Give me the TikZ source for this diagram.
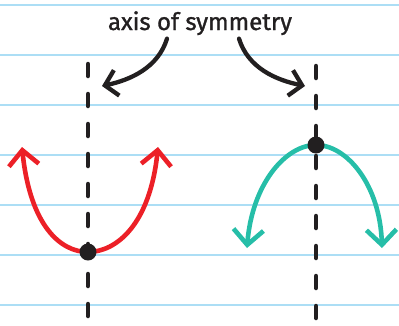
\documentclass[tikz,border=0pt]{standalone}
\usepackage{xcolor}
\usepackage{fontspec}
\setmainfont{Fira Sans}[FakeBold=1.2]
\usepackage{tikz}
\usetikzlibrary{arrows.meta, calc}

\definecolor{ruleblue}{RGB}{172,222,245}
\definecolor{upred}{RGB}{236,32,39}
\definecolor{downteal}{RGB}{38,190,168}
\definecolor{ink}{RGB}{34,31,32}

\begin{document}
\begin{tikzpicture}[
    x=1pt, y=-1pt,
    every node/.style={font=\fontsize{24}{28}\selectfont, text=ink},
    rule/.style={draw=ruleblue, line width=2.4pt},
    axisline/.style={draw=ink, line width=4.5pt, line cap=round, dash pattern=on 12pt off 18pt},
    branch/.style={line width=4.6pt, line cap=round, {Straight Barb[length=15pt, width=30pt, line width=4.6pt]}-{Straight Barb[length=15pt, width=30pt, line width=4.6pt]}},
    pointer/.style={draw=ink, line width=4.3pt, line cap=round, -{Straight Barb[length=12pt, width=26pt, line width=4.3pt]}},
    vertexdot/.style={circle, fill=ink, minimum size=17pt, inner sep=0pt}
]
\useasboundingbox (0,0) rectangle (399,325);

% ============================================================
% 1. NOTEBOOK RULES
% ============================================================
\foreach \y in {5,55,...,305}
    \draw[rule] (0,\y) -- (399,\y);

% ============================================================
% 2. AXES OF SYMMETRY
% ============================================================
\coordinate (ltop) at (88,64);
\coordinate (lbot) at (88,325);
\coordinate (rtop) at (316,66);
\coordinate (rbot) at (316,325);

\draw[axisline] (ltop) -- (lbot);
\draw[axisline] (rtop) -- (rbot);

% ============================================================
% 3. PARABOLAS
% ============================================================
\coordinate (redleft)   at (22,147);
\coordinate (redright)  at (158,147);
\coordinate (tealleft)  at (247,248);
\coordinate (tealright) at (382,248);

\draw[branch, upred] (redleft) .. controls (30,225) and (60,252) .. (88,252)
    .. controls (116,252) and (150,225) .. (redright);
\draw[branch, downteal] (tealleft) .. controls (252,185) and (285,145) .. (316,145)
    .. controls (347,145) and (380,185) .. (tealright);

\node[vertexdot] (redvertex)  at (88,252)  {};
\node[vertexdot] (tealvertex) at (316,145) {};

% ============================================================
% 4. LABEL
% ============================================================
\node[anchor=base] (title) at (200,30) {axis of symmetry};

\coordinate (lpoint) at (102,86);
\coordinate (rpoint) at (305,86);

\draw[pointer] ([xshift=-33pt]title.south) .. controls (158,68) and (130,80) .. (lpoint);
\draw[pointer] ([xshift=39pt]title.south) .. controls (248,68) and (276,80) .. (rpoint);

\end{tikzpicture}
\end{document}
